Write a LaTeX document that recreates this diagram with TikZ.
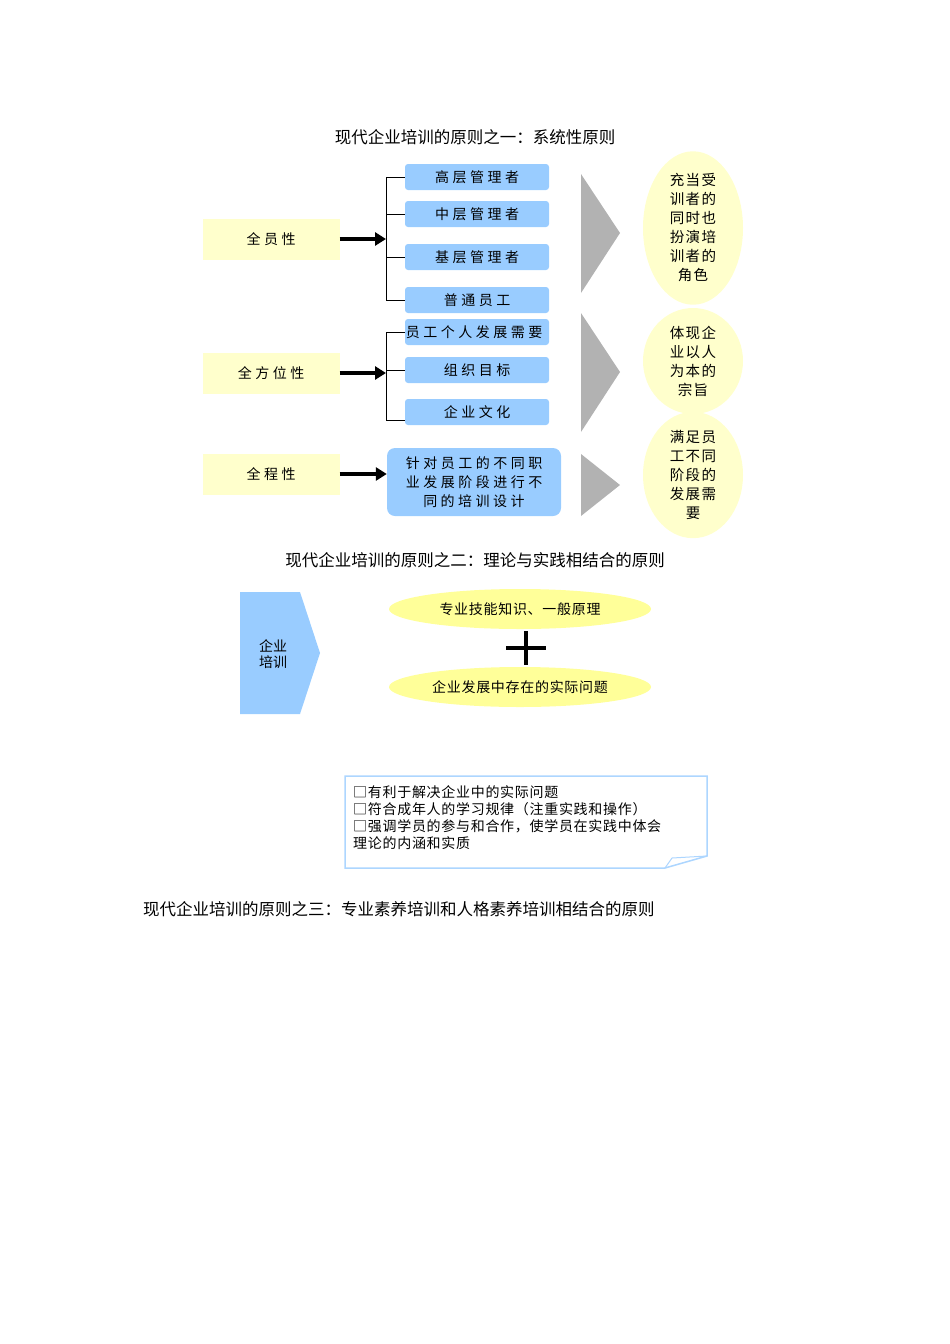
\documentclass[tikz,border=0pt]{standalone}
\usepackage{fontspec}
\setmainfont{Noto Sans CJK SC}
\newfontfamily\spcfont[LetterSpace=25]{Noto Sans CJK SC}
\newfontfamily\spcsmall[LetterSpace=10]{Noto Sans CJK SC}
\newfontfamily\spctiny[LetterSpace=5]{Noto Sans CJK SC}
\usetikzlibrary{arrows.meta,shapes.geometric}
\definecolor{ylw}{HTML}{FFFFCC}
\definecolor{ylw2}{HTML}{FFFF99}
\definecolor{blu}{HTML}{99CCFF}
\definecolor{gry}{HTML}{B2B2B2}
\begin{document}
\begin{tikzpicture}[x=1pt,y=-1pt,
 ybox/.style={fill=ylw,minimum width=137pt,minimum height=41pt,font=\spcfont\fontsize{14}{16}\selectfont},
 bbox/.style={fill=blu,rounded corners=3pt,minimum width=144pt,minimum height=26pt,inner sep=0pt,font=\spcfont\fontsize{14}{16}\selectfont},
 ell/.style={fill=ylw,ellipse,inner sep=0pt,align=center,font=\spcsmall\fontsize{14.5}{19}\selectfont},
 bigarr/.style={-{Triangle[length=11pt,width=13pt]},line width=3.5pt},
 brk/.style={line width=0.9pt},
 ttl/.style={font=\fontsize{16.5}{18}\selectfont}]
\useasboundingbox (0,0) rectangle (950,1344);
\node[ttl] (t1) at (475,137) {现代企业培训的原则之一：系统性原则};
\node[ybox] (a1) at (271,239) {全员性};
\node[ybox] (a2) at (271,373) {全方位性};
\node[ybox] (a3) at (271,474) {全程性};
\node[bbox] (b1) at (477,177) {高层管理者};
\node[bbox] (b2) at (477,214) {中层管理者};
\node[bbox] (b3) at (477,257) {基层管理者};
\node[bbox] (b4) at (477,300) {普通员工};
\node[bbox] (b5) at (477,332) {\hspace*{-6pt}员工个人发展需要};
\node[bbox] (b6) at (477,370) {组织目标};
\node[bbox] (b7) at (477,412) {企业文化};
\node[fill=blu,rounded corners=8pt,minimum width=174pt,minimum height=68pt,inner sep=0pt,align=center,font=\spcfont\fontsize{14}{19}\selectfont] (b8) at (474,482) {针对员工的不同职\\业发展阶段进行不\\同的培训设计};
\coordinate (j1) at (386,239);
\coordinate (j2) at (386,373);
\draw[bigarr] (a1.east) -- (j1);
\draw[bigarr] (a2.east) -- (j2);
\draw[bigarr] (a3.east) -- (a3.east -| b8.west);
\draw[brk] (b1.west) -| (386,300) -- (b4.west);
\draw[brk] (386,214) -- (b2.west);
\draw[brk] (386,257) -- (b3.west);
\draw[brk] (b5.west) -| (386,420) -- (b7.west |- 0,420);
\draw[brk] (386,370) -- (b6.west);
\fill[gry] (581,174) -- (620,233) -- (581,293) -- cycle;
\fill[gry] (581,313) -- (620,372) -- (581,432) -- cycle;
\fill[gry] (581,454) -- (620,485) -- (581,516) -- cycle;
\node[ell,minimum width=100pt,minimum height=118pt] (e1) at (693,228) {充当受\\训者的\\同时也\\扮演培\\训者的\\角色};
\node[ell,minimum width=100pt,minimum height=106pt] (e2) at (693,361) {体现企\\业以人\\为本的\\宗旨};
\node[ell,minimum width=100pt,minimum height=100pt] (e3) at (693,475) {满足员\\工不同\\阶段的\\发展需\\要};
\node[ttl] (t2) at (475,560) {现代企业培训的原则之二：理论与实践相结合的原则};
\fill[blu] (240,592) -- (300,592) -- (320,653) -- (300,714) -- (240,714) -- cycle;
\node[align=center,font=\fontsize{14}{16}\selectfont] (c) at (273,654) {企业\\培训};
\node[ell,fill=ylw2,minimum width=262pt,minimum height=40pt,font=\spctiny\fontsize{14}{16}\selectfont] (p1) at (520,609) {专业技能知识、一般原理};
\node[ell,fill=ylw2,minimum width=262pt,minimum height=40pt,font=\spctiny\fontsize{14}{16}\selectfont] (p2) at (520,687) {企业发展中存在的实际问题};
\draw[line width=4pt] (506,648) -- (546,648) (526,631) -- (526,665);
\draw[blu!80,line width=1.5pt,fill=white] (345,776) -- (707,776) -- (707,856) -- (665,868) -- (345,868) -- cycle;
\draw[blu!80,line width=1pt] (665,868) -- (672,858) -- (707,856);
\node[anchor=north west,align=left,inner sep=0pt,font=\spctiny\fontsize{14}{17}\selectfont] (n) at (353,785) {□有利于解决企业中的实际问题\\□符合成年人的学习规律（注重实践和操作）\\□强调学员的参与和合作，使学员在实践中体会\\理论的内涵和实质};
\node[ttl,anchor=west,inner sep=0pt] (t3) at (143,909) {现代企业培训的原则之三：专业素养培训和人格素养培训相结合的原则};
\end{tikzpicture}
\end{document}
